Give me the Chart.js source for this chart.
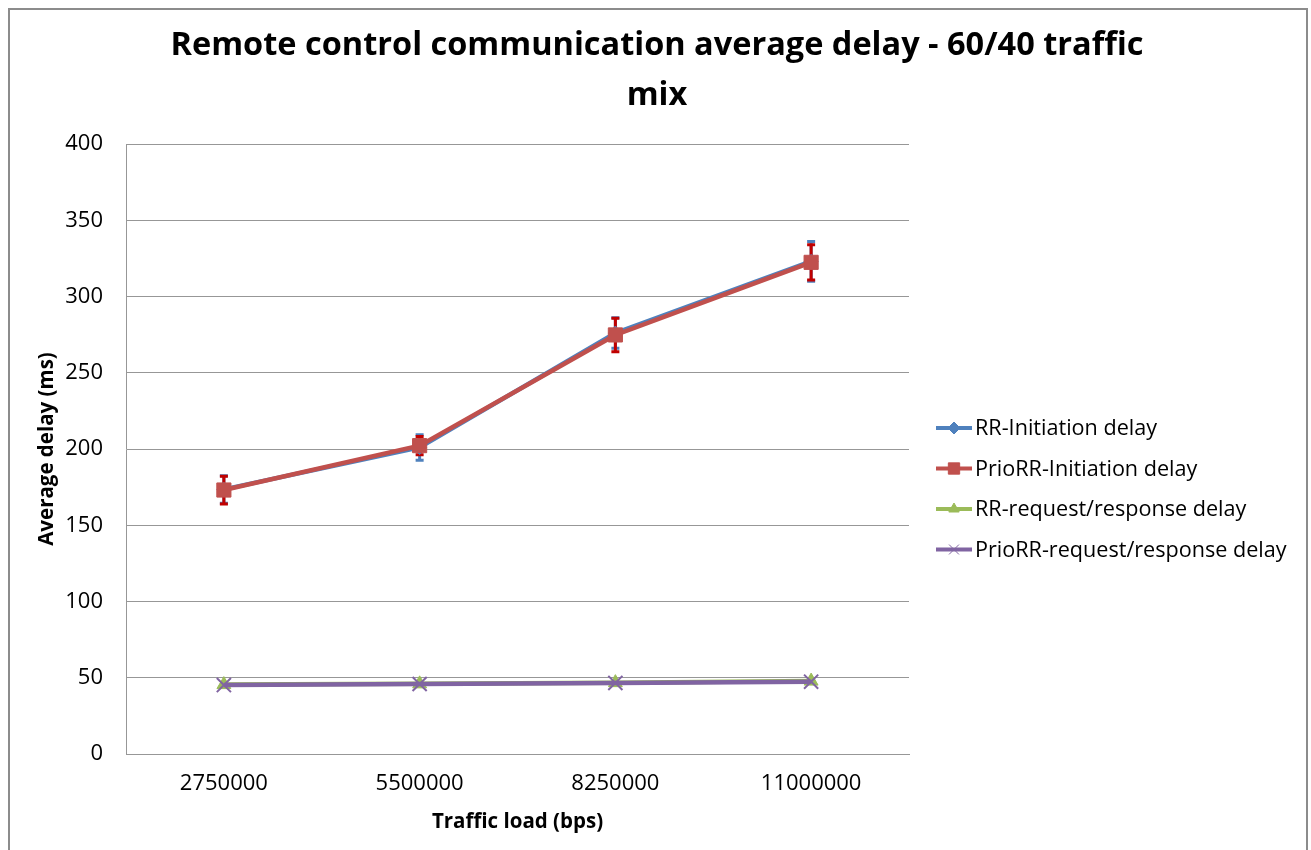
<!DOCTYPE html>
<html>
<head>
<meta charset="utf-8">
<script src="https://cdn.jsdelivr.net/npm/chart.js@4.4.1/dist/chart.umd.min.js"></script>
<style>
    html, body { margin: 0; padding: 0; background: #fff; overflow: hidden; }
    #wrap { position: relative; width: 1311px; height: 850px; }
    #frame { position: absolute; left: 8px; top: 8px; width: 1296px; height: 900px; border: 2px solid #8c8c8c; pointer-events: none; }
</style>
</head>
<body>
<div id="wrap">
    <canvas id="delay-chart" width="1311" height="850"></canvas>
    <div id="frame"></div>
</div>
<script>
const loads = ['2750000', '5500000', '8250000', '11000000'];

const rrInit = [173.5, 201, 276, 323];
const rrInitErr = [9, 8.3, 10, 13];
const prioInit = [173.1, 202.2, 274.8, 322.4];
const prioInitErr = [9.1, 6, 11, 11.5];
const rrReq = [45.5, 46, 46.8, 47.8];
const prioReq = [45.2, 45.9, 46.6, 47.4];

const titleLines = ['Remote control communication average delay - 60/40 traffic', 'mix'];
const FONT = '"Open Sans", sans-serif';

const series = [
    { label: 'RR-Initiation delay', data: rrInit, err: rrInitErr, color: '#4F81BD', errColor: '#4F81BD', style: 'rectRot', r: 7, lr: 6, order: 4 },
    { label: 'PrioRR-Initiation delay', data: prioInit, err: prioInitErr, color: '#C0504D', errColor: '#C00000', style: 'rect', r: 10, lr: 8, order: 3 },
    { label: 'RR-request/response delay', data: rrReq, err: null, color: '#9BBB59', style: 'triangle', r: 8, lr: 6, order: 2 },
    { label: 'PrioRR-request/response delay', data: prioReq, err: null, color: '#8064A2', style: 'crossRot', r: 10, lr: 7, order: 1 }
];

const errorBars = {
    id: 'errorBars',
    beforeDatasetsDraw(chart) {
        const { ctx, scales: { x, y } } = chart;
        ctx.save();
        series.forEach(s => {
            if (!s.err) return;
            ctx.strokeStyle = s.errColor;
            ctx.lineWidth = 3;
            s.data.forEach((v, i) => {
                const px = x.getPixelForValue(i);
                const top = y.getPixelForValue(v + s.err[i]);
                const bot = y.getPixelForValue(v - s.err[i]);
                ctx.beginPath();
                ctx.moveTo(px, top); ctx.lineTo(px, bot);
                ctx.moveTo(px - 4, top); ctx.lineTo(px + 4, top);
                ctx.moveTo(px - 4, bot); ctx.lineTo(px + 4, bot);
                ctx.stroke();
            });
        });
        ctx.restore();
    }
};

const decorations = {
    id: 'decorations',
    afterDraw(chart) {
        const { ctx, chartArea } = chart;
        ctx.save();
        // title
        ctx.fillStyle = '#000';
        ctx.textAlign = 'center';
        ctx.textBaseline = 'middle';
        ctx.font = 'bold 32.5px ' + FONT;
        ctx.fillText(titleLines[0], 657, 46);
        ctx.fillText(titleLines[1], 657, 96);
        // legend
        const lx = chartArea.right + 27;
        ctx.textAlign = 'left';
        ctx.font = '21.6px ' + FONT;
        series.forEach((s, i) => {
            const ly = 428 + i * 40.5;
            ctx.strokeStyle = s.color;
            ctx.fillStyle = s.color;
            ctx.lineWidth = 4;
            ctx.beginPath();
            ctx.moveTo(lx, ly); ctx.lineTo(lx + 36, ly);
            ctx.stroke();
            ctx.lineWidth = 1;
            Chart.helpers.drawPoint(ctx, { pointStyle: s.style, radius: s.lr, rotation: 0, borderWidth: 1 }, lx + 18, ly);
            ctx.fillStyle = '#000';
            ctx.fillText(s.label, lx + 39, ly + 1);
        });
        ctx.restore();
    }
};

new Chart(document.getElementById('delay-chart').getContext('2d'), {
    type: 'line',
    data: {
        labels: loads,
        datasets: series.map(s => ({
            label: s.label,
            data: s.data,
            order: s.order,
            borderColor: s.color,
            backgroundColor: s.color,
            borderWidth: 4.5,
            tension: 0,
            pointStyle: s.style,
            pointRadius: s.r,
            pointBorderWidth: s.style === 'crossRot' ? 2 : 1,
            pointBackgroundColor: s.color,
            pointBorderColor: s.color
        }))
    },
    options: {
        responsive: false,
        animation: false,
        layout: { padding: { left: 0, top: 144, right: 402, bottom: 0 } },
        plugins: { legend: { display: false }, title: { display: false }, tooltip: { enabled: false } },
        scales: {
            x: {
                offset: true,
                grid: { display: false, drawTicks: false },
                border: { color: '#979797', width: 1 },
                ticks: { color: '#000', font: { family: FONT, size: 22 }, padding: 17 },
                title: { display: true, text: 'Traffic load (bps)', color: '#000', font: { family: FONT, size: 20.5, weight: 'bold' }, padding: { top: 0, bottom: 16 } },
                afterFit: s => { s.height = 96; }
            },
            y: {
                min: 0,
                max: 400,
                grid: { color: '#979797', drawTicks: false },
                border: { color: '#979797', width: 1 },
                ticks: { stepSize: 50, color: '#000', font: { family: FONT, size: 22 }, padding: 23 },
                title: { display: true, text: 'Average delay (ms)', color: '#000', font: { family: FONT, size: 20.5, weight: 'bold' }, padding: { top: 35, bottom: 0 } },
                afterFit: s => { s.width = 126; }
            }
        }
    },
    plugins: [errorBars, decorations]
});
</script>
</body>
</html>
